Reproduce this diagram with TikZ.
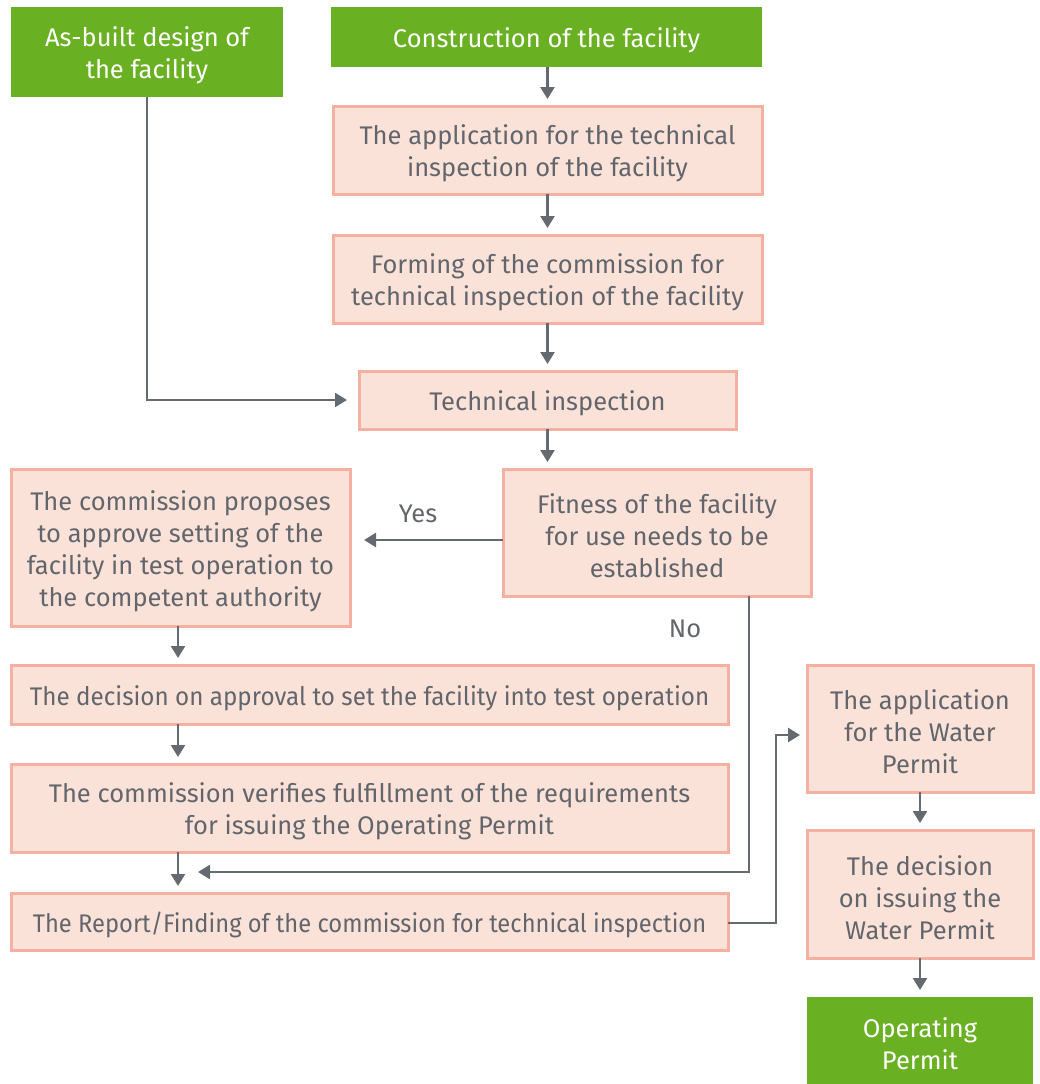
\documentclass[tikz,border=0pt]{standalone}
\usepackage{fontspec}
\setmainfont{Fira Sans}
\usetikzlibrary{arrows.meta,calc}
\definecolor{grn}{HTML}{6AB023}
\definecolor{pfill}{HTML}{FBE2D8}
\definecolor{pdraw}{HTML}{F5B0A2}
\definecolor{txt}{HTML}{62666C}
\definecolor{arr}{HTML}{656A70}
\newcommand\tsh{\rule{0pt}{27pt}}
\begin{document}
\begin{tikzpicture}[x=1pt,y=-1pt,
  every node/.style={font=\fontsize{25.5}{32}\selectfont, align=center, inner sep=0pt, outer sep=0pt},
  gbox/.style={fill=grn, draw=none, text=white},
  pbox/.style={fill=pfill, draw=pdraw, line width=3pt, text=txt},
  conn/.style={draw=arr, line width=2.5pt, -{Triangle[length=12pt,width=14pt]}, shorten >=7pt},
  lbl/.style={text=txt}]
\useasboundingbox (0,0) rectangle (1040,1084);
\node[gbox, minimum width=272pt, minimum height=90pt] (asb) at (147,52) {\tsh As-built design of\\the facility};
\node[gbox, minimum width=431pt, minimum height=60pt] (con) at (546.5,37) {\tsh Construction of the facility};
\node[pbox, minimum width=429pt, minimum height=88pt] (app) at (547.5,150) {\tsh The application for the technical\\inspection of the facility};
\node[pbox, minimum width=429pt, minimum height=88pt] (form) at (547.5,279) {\tsh Forming of the commission for\\technical inspection of the facility};
\node[pbox, minimum width=377pt, minimum height=58pt] (tech) at (547.5,400) {\tsh Technical inspection};
\node[pbox, minimum width=308pt, minimum height=127pt] (fit) at (657,532.5) {\tsh Fitness of the facility\\for use needs to be\\established};
\node[pbox, minimum width=339pt, minimum height=157pt] (prop) at (180.5,547.5) {\tsh The commission proposes\\to approve setting of the\\facility in test operation to\\the competent authority};
\node[pbox, minimum width=717pt, minimum height=59pt] (dec) at (369.5,694.5) {\tsh\scalebox{0.95}[1]{The decision on approval to set the facility into test operation}};
\node[pbox, minimum width=717pt, minimum height=88pt] (ver) at (369.5,808) {\tsh The commission verifies fulfillment of the requirements\\for issuing the Operating Permit};
\node[pbox, minimum width=717pt, minimum height=57pt] (rep) at (369.5,921.5) {\tsh\scalebox{0.93}[1]{The Report/Finding of the commission for technical inspection}};
\node[pbox, minimum width=226pt, minimum height=127pt] (wapp) at (920,728.5) {\tsh The application\\for the Water\\Permit};
\node[pbox, minimum width=226pt, minimum height=128pt] (wdec) at (920,894) {\tsh The decision\\on issuing the\\Water Permit};
\node[gbox, minimum width=226pt, minimum height=87pt] (op) at (920,1040.5) {\tsh Operating\\Permit};
\node[lbl] (yes) at (418,514) {Yes};
\node[lbl] (no) at (685,629) {No};
\coordinate (nox) at (749,872);
\coordinate (noend) at (198,872);
\coordinate (wx) at (776,923);
\coordinate (win) at (807,735);
\draw[conn] (app.north |- con.south) -- (app.north);
\draw[conn] (app.south) -- (form.north);
\draw[conn] (form.south) -- (form.south |- tech.north);
\draw[conn] (tech.south) -- (tech.south |- fit.north);
\draw[conn, shorten >=12pt] (asb.south) |- (tech.west);
\draw[conn, shorten >=14pt] (fit.west |- 0,540) -- (prop.east |- 0,540);
\draw[conn, shorten >=0pt] (fit.south -| nox) |- (noend);
\draw[conn] (prop.south -| 178,0) -- (dec.north -| 178,0);
\draw[conn] (dec.south -| 178,0) -- (ver.north -| 178,0);
\draw[conn] (ver.south -| 178,0) -- (rep.north -| 178,0);
\draw[conn] (rep.east |- wx) -- (wx) |- (win);
\draw[conn] (wapp.south) -- (wdec.north);
\draw[conn] (wdec.south) -- (op.north);
\end{tikzpicture}
\end{document}
